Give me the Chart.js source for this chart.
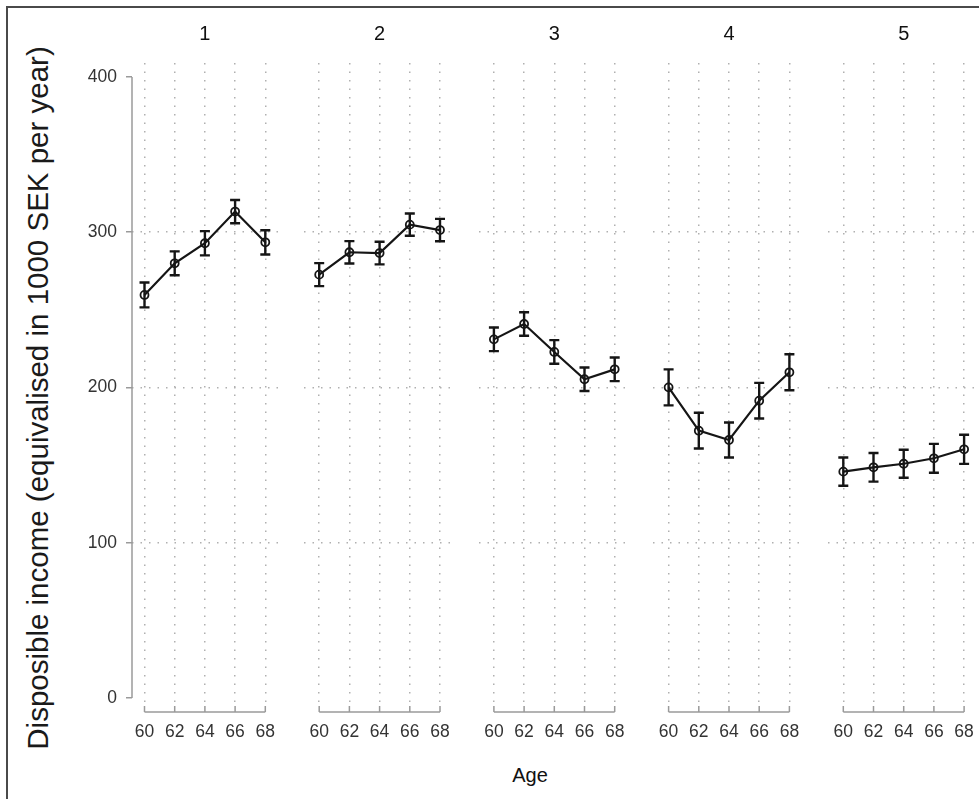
<!DOCTYPE html>
<html>
<head>
<meta charset="utf-8">
<script src="https://cdn.jsdelivr.net/npm/chart.js@4.4.1/dist/chart.umd.min.js"></script>
<style>
  html, body { margin: 0; padding: 0; background: #fff; }
  #fig { position: relative; width: 979px; height: 799px; overflow: hidden; background: #fff;
         font-family: "Liberation Sans", Arial, sans-serif; }
  #frame { position: absolute; left: 6px; top: 6px; width: 1200px; height: 1200px;
           border-top: 2px solid #4a4a4a; border-left: 2px solid #4a4a4a; }
  canvas { position: absolute; top: 0; }
  .ptitle { position: absolute; top: 33px; font-size: 20px; line-height: 1; color: #111;
            transform: translate(-50%, -50%); white-space: nowrap; }
  #ytitle { position: absolute; left: 38px; top: 398px; font-size: 29.5px; line-height: 1; color: #1a1a1a;
            transform: translate(-50%, -50%) rotate(-90deg); white-space: nowrap; }
  #xtitle { position: absolute; left: 530px; top: 775px; font-size: 20px; line-height: 1; color: #111;
            transform: translate(-50%, -50%); white-space: nowrap; }
</style>
</head>
<body>
<div id="fig">
  <div id="frame"></div>
  <div id="ytitle">Disposible income (equivalised in 1000 SEK per year)</div>
  <div id="xtitle">Age</div>
</div>
<script>
// Ages on the horizontal axis of every panel
const ages = [60, 62, 64, 66, 68];
// Panel headings
const groups = ['1', '2', '3', '4', '5'];
// Value axis ticks
const yTicks = [0, 100, 200, 300, 400];

// Mean disposable income per group and age (1000 SEK per year)
const income1 = [259.6, 280.0, 292.9, 313.3, 293.5];
const income2 = [272.7, 287.1, 286.6, 304.9, 301.4];
const income3 = [231.0, 240.9, 222.9, 205.3, 211.7];
const income4 = [200.1, 172.2, 166.2, 191.5, 209.8];
const income5 = [145.8, 148.6, 150.9, 154.4, 160.2];

// Half-width of the confidence interval for each mean
const ci1 = [8.0, 7.7, 7.8, 7.5, 7.8];
const ci2 = [7.4, 7.2, 7.3, 7.2, 7.2];
const ci3 = [7.6, 7.6, 7.6, 7.6, 7.6];
const ci4 = [11.6, 11.5, 11.3, 11.5, 11.6];
const ci5 = [9.1, 9.2, 9.0, 9.3, 9.4];

const incomeByGroup = [income1, income2, income3, income4, income5];
const ciByGroup = [ci1, ci2, ci3, ci4, ci5];

// Page geometry
const FIG_H = 799;
const PLOT_TOP = 63, PLOT_BOTTOM = 703;
const AGE60_X = 144.5, PANEL_STEP = 174.7, PX_PER_YEAR = 15.1;
const Y_MIN = -3.2, Y_MAX = 409;
const AXIS_GREY = '#9a9a9a';
const GRID_GREY = '#b0b0b0';
const INK = '#151515';
const FONT = '"Liberation Sans", Arial, sans-serif';

// Error bars and the detached Stata-style axis lines
const whiskerPlugin = {
  id: 'whiskers',
  afterDatasetsDraw(chart, args, opts) {
    const { ctx, scales: { x, y } } = chart;
    const means = opts.means, ci = opts.ci;
    ctx.save();
    ctx.strokeStyle = INK;
    ctx.lineWidth = 2.4;
    ctx.lineCap = 'butt';
    ages.forEach((a, i) => {
      const px = x.getPixelForValue(a);
      const top = y.getPixelForValue(means[i] + ci[i]);
      const bot = y.getPixelForValue(means[i] - ci[i]);
      ctx.beginPath();
      ctx.moveTo(px, top); ctx.lineTo(px, bot);
      ctx.moveTo(px - 5, top); ctx.lineTo(px + 5, top);
      ctx.moveTo(px - 5, bot); ctx.lineTo(px + 5, bot);
      ctx.stroke();
    });
    ctx.restore();
  },
  afterDraw(chart, args, opts) {
    const { ctx, scales: { x, y } } = chart;
    ctx.save();
    ctx.strokeStyle = AXIS_GREY;
    ctx.lineWidth = 1.5;
    // horizontal axis line sitting just below the plot region, ticks pointing up
    const axisY = y.getPixelForValue(Y_MIN) + 9;
    ctx.beginPath();
    ctx.moveTo(x.getPixelForValue(ages[0]), axisY);
    ctx.lineTo(x.getPixelForValue(ages[ages.length - 1]), axisY);
    ages.forEach(a => {
      const px = x.getPixelForValue(a);
      ctx.moveTo(px, axisY);
      ctx.lineTo(px, axisY - 6);
    });
    ctx.stroke();
    // vertical axis line from 0 to 400 in the first panel
    if (opts.showYAxis) {
      const lx = chart.chartArea.left;
      ctx.beginPath();
      ctx.moveTo(lx, y.getPixelForValue(yTicks[0]));
      ctx.lineTo(lx, y.getPixelForValue(yTicks[yTicks.length - 1]));
      ctx.stroke();
    }
    ctx.restore();
  }
};

const fig = document.getElementById('fig');

groups.forEach((g, k) => {
  const first = k === 0;
  const x60 = AGE60_X + k * PANEL_STEP;
  const xMin = first ? 60 - (x60 - 132) / PX_PER_YEAR : 59;
  const xMax = 69;
  const chartLeft = x60 - (60 - xMin) * PX_PER_YEAR;
  const chartRight = x60 + (xMax - 60) * PX_PER_YEAR;

  const canvasLeft = first ? 0 : Math.floor(chartLeft) - 12;
  const canvasWidth = Math.ceil(chartRight) + 12 - canvasLeft;
  const yAxisWidth = first ? chartLeft : 0;
  const padLeft = first ? 0 : chartLeft - canvasLeft;
  const padRight = canvasLeft + canvasWidth - chartRight;

  const cv = document.createElement('canvas');
  cv.width = canvasWidth;
  cv.height = FIG_H;
  cv.style.left = canvasLeft + 'px';
  cv.style.width = canvasWidth + 'px';
  cv.style.height = FIG_H + 'px';
  fig.appendChild(cv);

  const title = document.createElement('div');
  title.className = 'ptitle';
  title.textContent = g;
  title.style.left = (x60 + 4 * PX_PER_YEAR) + 'px';
  fig.appendChild(title);

  const means = incomeByGroup[k];
  const ci = ciByGroup[k];

  new Chart(cv, {
    type: 'line',
    data: {
      datasets: [{
        label: g,
        data: ages.map((a, i) => ({ x: a, y: means[i] })),
        borderColor: INK,
        borderWidth: 2.2,
        tension: 0,
        pointStyle: 'circle',
        pointRadius: 4,
        pointBorderWidth: 1.8,
        pointBorderColor: INK,
        pointBackgroundColor: 'rgba(0,0,0,0)',
        clip: false
      }]
    },
    options: {
      responsive: false,
      animation: false,
      devicePixelRatio: 1,
      layout: { padding: { top: PLOT_TOP, bottom: 0, left: padLeft, right: padRight } },
      plugins: {
        legend: { display: false },
        tooltip: { enabled: false },
        whiskers: { means: means, ci: ci, showYAxis: first }
      },
      scales: {
        x: {
          type: 'linear',
          min: xMin,
          max: xMax,
          afterBuildTicks: s => { s.ticks = ages.map(v => ({ value: v })); },
          afterFit: s => { s.height = FIG_H - PLOT_BOTTOM; },
          border: { display: false, dash: [1.5, 7] },
          grid: {
            color: GRID_GREY,
            lineWidth: 1.5,
            drawTicks: true,
            tickLength: 17,
            tickColor: 'rgba(0,0,0,0)',
            tickBorderDash: []
          },
          ticks: {
            padding: 2,
            maxRotation: 0,
            autoSkip: false,
            color: '#333333',
            font: { family: FONT, size: 17.5 }
          }
        },
        y: {
          type: 'linear',
          min: Y_MIN,
          max: Y_MAX,
          afterBuildTicks: s => { s.ticks = yTicks.map(v => ({ value: v })); },
          afterFit: s => { s.width = yAxisWidth; },
          border: { display: false, dash: [1.5, 7] },
          grid: {
            color: c => (c.tick && c.tick.value > 0 && c.tick.value < 400) ? GRID_GREY : 'rgba(0,0,0,0)',
            lineWidth: 1.5,
            drawTicks: first,
            tickLength: 6,
            tickWidth: 1.5,
            tickColor: AXIS_GREY,
            tickBorderDash: []
          },
          ticks: {
            display: first,
            padding: 9,
            color: '#333333',
            font: { family: FONT, size: 17.5 }
          }
        }
      }
    },
    plugins: [whiskerPlugin]
  });
});
</script>
</body>
</html>
